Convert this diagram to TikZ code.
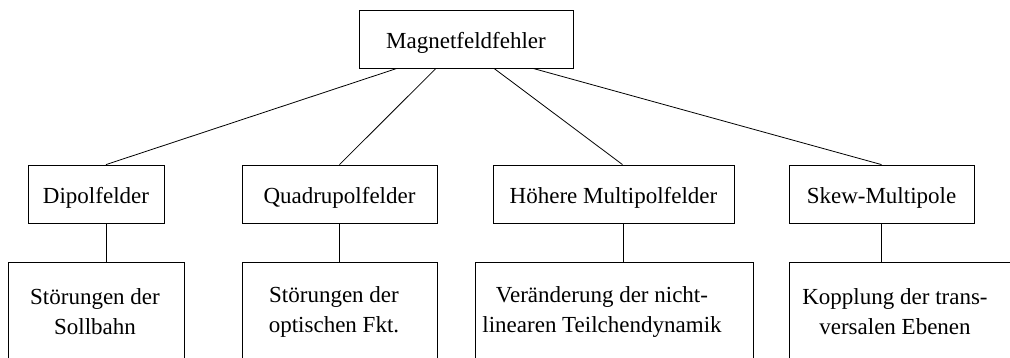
\documentclass[tikz,border=0pt]{standalone}
\usepackage{fontspec}
\setmainfont{Liberation Serif}
\begin{document}
\begin{tikzpicture}[x=1pt,y=-1pt,
  font=\rmfamily\fontsize{23}{30}\selectfont,
  line width=0.8pt,
  box/.style={draw, inner sep=0pt, minimum height=58pt, text height=20pt, text depth=0pt},
  openbox/.style={draw, inner sep=0pt, minimum height=100pt},
  txt/.style={align=center, inner sep=0pt}]
\useasboundingbox (0,0) rectangle (1010,358);
\clip (0,0) rectangle (1010,358);
% top
\node[box, minimum width=214pt] (top) at (466,39) {Magnetfeldfehler};
% level 2
\node[box, minimum width=136pt] (d1) at (96,194) {Dipolfelder};
\node[box, minimum width=195pt] (d2) at (339.5,194) {Quadrupolfelder};
\node[box, minimum width=241pt] (d3) at (613.5,194) {Höhere Multipolfelder};
\node[box, minimum width=185pt] (d4) at (881.5,194) {Skew-Multipole};
% level 3 boxes (cut off at the bottom)
\node[openbox, minimum width=176pt] (b1) at (96,312) {};
\node[openbox, minimum width=195pt] (b2) at (339.5,312) {};
\node[openbox, minimum width=278pt] (b3) at (614,312) {};
\node[openbox, minimum width=241pt] (b4) at (909.5,312) {};
\node[txt] (t1) at (95,312) {Störungen der\\Sollbahn};
\node[txt] (t2) at (334,312) {Störungen der\\optischen Fkt.};
\node[txt] (t3) at (602,312) {Veränderung der nicht-\\linearen Teilchendynamik};
\node[txt] (t4) at (895,312) {Kopplung der trans-\\versalen Ebenen};
% connectors top -> level 2
\draw ([xshift=-69pt]top.south) -- ([xshift=10pt]d1.north);
\draw ([xshift=-30pt]top.south) -- (d2.north);
\draw ([xshift=28pt]top.south) -- ([xshift=9pt]d3.north);
\draw ([xshift=67pt]top.south) -- (d4.north);
% connectors level 2 -> level 3
\draw ([xshift=10pt]d1.south) -- ([xshift=10pt]d1.south |- b1.north);
\draw (d2.south) -- (d2.south |- b2.north);
\draw ([xshift=9.5pt]d3.south) -- ([xshift=9.5pt]d3.south |- b3.north);
\draw (d4.south) -- (d4.south |- b4.north);
\end{tikzpicture}
\end{document}
